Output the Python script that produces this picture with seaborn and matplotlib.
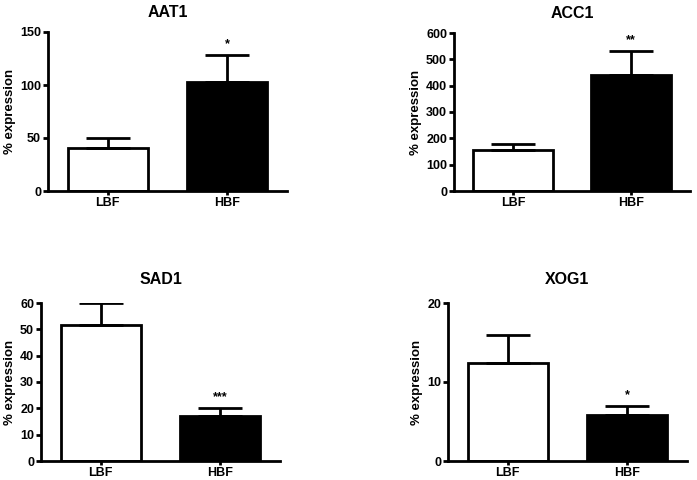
import numpy as np
import pandas as pd
import matplotlib
matplotlib.use("Agg")
import matplotlib.pyplot as plt
import seaborn as sns

groups = ["LBF", "HBF"]
genes = ["AAT1", "ACC1", "SAD1", "XOG1"]
means = {"AAT1": [40.6, 103], "ACC1": [156, 440], "SAD1": [51.7, 17.1], "XOG1": [12.4, 5.8]}
errs = {"AAT1": [9.4, 25], "ACC1": [21, 92], "SAD1": [8.3, 3.0], "XOG1": [3.5, 1.2]}
stars = {"AAT1": "*", "ACC1": "**", "SAD1": "***", "XOG1": "*"}
ymax = {"AAT1": 150, "ACC1": 600, "SAD1": 60, "XOG1": 20}
yticks = {"AAT1": [0, 50, 100, 150], "ACC1": [0, 100, 200, 300, 400, 500, 600],
          "SAD1": [0, 10, 20, 30, 40, 50, 60], "XOG1": [0, 10, 20]}

sns.set_style("ticks")
plt.rcParams['font.family'] = ['Liberation Sans', 'DejaVu Sans']
for k in ["text.color", "axes.labelcolor", "xtick.color", "ytick.color", "axes.edgecolor"]:
    plt.rcParams[k] = "black"

W, H = 697, 480
fig = plt.figure(figsize=(W / 100, H / 100), dpi=100)

# axes boxes in pixels: left, right, top, bottom
boxes = {"AAT1": (48, 287, 32, 191), "ACC1": (454, 690, 33, 191),
         "SAD1": (41, 280, 303, 461), "XOG1": (448, 687, 303, 461)}
title_pad = {"AAT1": 11, "ACC1": 11, "SAD1": 14, "XOG1": 14}

for g in genes:
    l, r, t, b = boxes[g]
    ax = fig.add_axes([l / W, 1 - b / H, (r - l) / W, (b - t) / H])
    df = pd.DataFrame({"group": groups, "value": means[g]})
    sns.barplot(data=df, x="group", y="value", hue="group",
                palette=["white", "black"], edgecolor="black", linewidth=2,
                width=0.67, errorbar=None, legend=False, ax=ax)
    x = np.arange(len(groups))
    ax.errorbar(x, means[g], yerr=[np.zeros(2), errs[g]], fmt="none",
                ecolor="black", elinewidth=2, capsize=16, capthick=2, zorder=1)
    top = means[g][1] + errs[g][1]
    ax.text(1, top + ymax[g] * 0.03, stars[g], ha="center", va="bottom",
            fontsize=9, fontweight="bold")
    ax.set_xlim(-0.5, 1.5)
    ax.set_ylim(0, ymax[g])
    ax.set_yticks(yticks[g])
    ax.set_title(g, fontsize=11.5, fontweight="bold", pad=title_pad[g])
    ax.set_xlabel("")
    ax.set_ylabel("% expression", fontsize=9.5, fontweight="bold", labelpad=3)
    sns.despine(ax=ax)
    for s in ["left", "bottom"]:
        ax.spines[s].set_linewidth(2)
    ax.tick_params(axis="y", width=2, length=3.5, pad=1.5, labelsize=9)
    ax.tick_params(axis="x", width=2, length=3, pad=1.5, labelsize=9)
    for lab in ax.get_xticklabels() + ax.get_yticklabels():
        lab.set_fontweight("bold")

fig.savefig("out.png", dpi=100)
